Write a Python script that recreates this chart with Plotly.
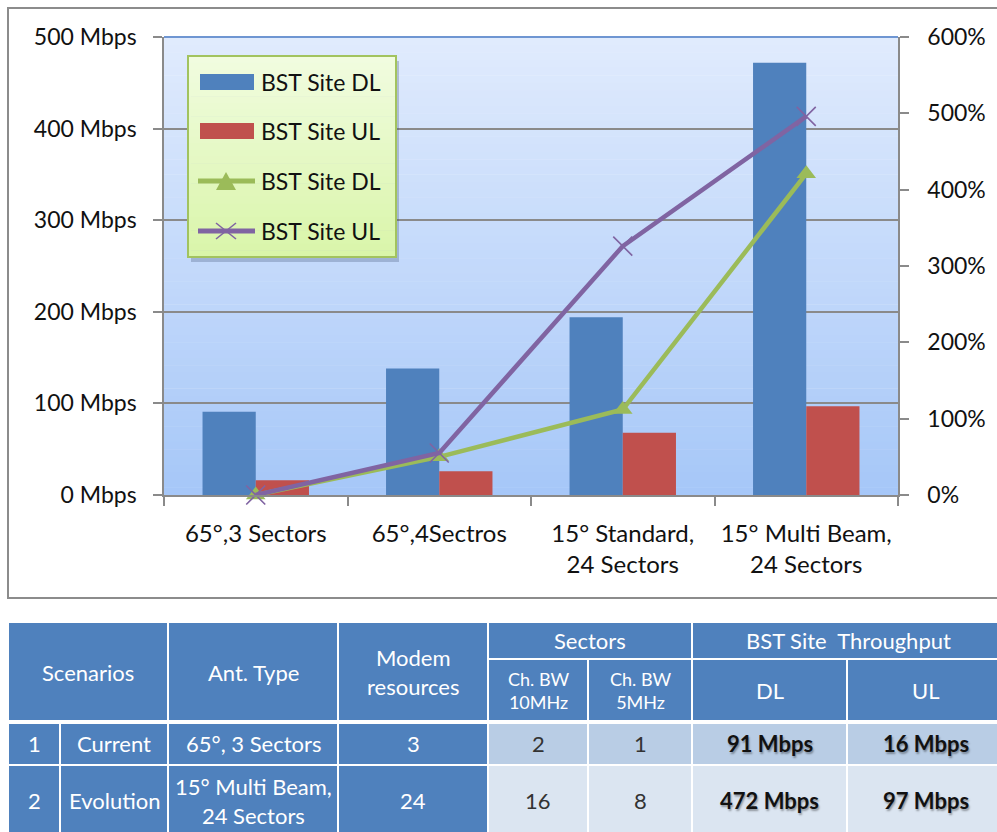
import plotly.graph_objects as go

# ---- chart data ----
categories = ["65°,3 Sectors", "65°,4Sectros", "15° Standard,<br>24 Sectors", "15° Multi Beam,<br>24 Sectors"]
dl_mbps = [91, 138, 194, 472]
ul_mbps = [16, 26, 68, 97]
dl_growth_pct = [0, 50, 112, 421]
ul_growth_pct = [0, 55, 326, 496]
series_names = ["BST Site DL", "BST Site UL", "BST Site DL", "BST Site UL"]
left_ticks = [0, 100, 200, 300, 400, 500]
right_ticks = [0, 100, 200, 300, 400, 500, 600]

# ---- table data ----
table_head_top = ["Scenarios", "Ant. Type", "Modem<br>resources", "Sectors", "BST Site  Throughput"]
table_head_sub = ["Ch. BW<br>10MHz", "Ch. BW<br>5MHz", "DL", "UL"]
table_rows = [
    ["1", "Current", "65°, 3 Sectors", "3", "2", "1", "91 Mbps", "16 Mbps"],
    ["2", "Evolution", "15° Multi Beam,<br>24 Sectors", "24", "16", "8", "472 Mbps", "97 Mbps"],
]

BLUE = "#4f81bd"
RED = "#c0504d"
GREEN = "#9bbb59"
PURPLE = "#8064a2"
GRID = "#8a8a8a"
FONT = "Lato, 'Open Sans', sans-serif"

W, H = 997, 832
PL, PR, PT, PB = 164, 898, 37, 495  # plot area in pixels


def px(x):
    return (x - PL) / (PR - PL)


def py(y):
    return (PB - y) / (PB - PT)


fig = go.Figure()
colors = [BLUE, RED]
for vals, name, col in zip([dl_mbps, ul_mbps], series_names[:2], colors):
    fig.add_trace(go.Bar(x=categories, y=vals, name=name, marker=dict(color=col, line=dict(width=0)),
                         yaxis="y", showlegend=False))

fig.add_trace(go.Scatter(x=categories, y=dl_growth_pct, name=series_names[2], yaxis="y2", mode="lines+markers",
                         line=dict(color=GREEN, width=4.5),
                         marker=dict(symbol="triangle-up", size=17, color=GREEN),
                         cliponaxis=False, showlegend=False))
fig.add_trace(go.Scatter(x=categories, y=ul_growth_pct, name=series_names[3], yaxis="y2", mode="lines+markers",
                         line=dict(color=PURPLE, width=4.5),
                         marker=dict(symbol="x-thin", size=19, color=PURPLE, line=dict(width=1.6, color=PURPLE)),
                         cliponaxis=False, showlegend=False))

shapes = []
annotations = []

# plot area vertical gradient
top_rgb = (0xe0, 0xeb, 0xfd)
bot_rgb = (0xa6, 0xc7, 0xf8)
n = 60
for i in range(n):
    t = (i + 0.5) / n
    c = tuple(round(top_rgb[k] + (bot_rgb[k] - top_rgb[k]) * t) for k in range(3))
    shapes.append(dict(type="rect", xref="paper", yref="paper", x0=0, x1=1,
                       y0=1 - (i + 1) / n - 0.001, y1=1 - i / n,
                       fillcolor="rgb(%d,%d,%d)" % c, line=dict(width=0), layer="below"))

# outer chart frame
shapes.append(dict(type="rect", xref="paper", yref="paper", x0=px(8), x1=px(1005), y0=py(598), y1=py(8),
                   line=dict(color="#8c8c8c", width=2), fillcolor="rgba(0,0,0,0)", layer="below"))
# top edge of plot area
shapes.append(dict(type="line", xref="paper", yref="paper", x0=0, x1=1, y0=1, y1=1,
                   line=dict(color="#6f96d2", width=2), layer="above"))

# ---- legend box ----
LX0, LX1, LY0, LY1 = 188, 396, 56, 257
shapes.append(dict(type="rect", xref="paper", yref="paper", x0=px(LX0 + 3), x1=px(LX1 + 3),
                   y0=py(LY1 + 5), y1=py(LY0 + 5), fillcolor="rgba(60,80,110,0.28)",
                   line=dict(width=0), layer="above"))
leg_top = (0xf1, 0xfc, 0xe0)
leg_bot = (0xd9, 0xf5, 0xa9)
m = 30
for i in range(m):
    t = (i + 0.5) / m
    c = tuple(round(leg_top[k] + (leg_bot[k] - leg_top[k]) * t) for k in range(3))
    ya = LY0 + (LY1 - LY0) * i / m
    yb = LY0 + (LY1 - LY0) * (i + 1) / m
    shapes.append(dict(type="rect", xref="paper", yref="paper", x0=px(LX0), x1=px(LX1),
                       y0=py(yb + 0.5), y1=py(ya), fillcolor="rgb(%d,%d,%d)" % c,
                       line=dict(width=0), layer="above"))
shapes.append(dict(type="rect", xref="paper", yref="paper", x0=px(LX0), x1=px(LX1), y0=py(LY1), y1=py(LY0),
                   fillcolor="rgba(0,0,0,0)", line=dict(color="#a2c35f", width=2), layer="above"))

row_y = [82, 131, 181, 231]
# bar swatches
for yy, col in zip(row_y[:2], colors):
    shapes.append(dict(type="rect", xref="paper", yref="paper", x0=px(200), x1=px(254),
                       y0=py(yy + 8), y1=py(yy - 8), fillcolor=col, line=dict(width=0), layer="above"))
# line swatches
for yy, col in zip(row_y[2:], [GREEN, PURPLE]):
    shapes.append(dict(type="line", xref="paper", yref="paper", x0=px(198), x1=px(255),
                       y0=py(yy), y1=py(yy), line=dict(color=col, width=5), layer="above"))
# triangle symbol
ty = row_y[2]
shapes.append(dict(type="path", xref="paper", yref="paper",
                   path="M %f %f L %f %f L %f %f Z" % (px(216), py(ty + 9), px(236), py(ty + 9), px(226), py(ty - 9)),
                   fillcolor=GREEN, line=dict(width=0), layer="above"))
# x symbol
xy = row_y[3]
for (a, b, c, d) in [(216, xy - 8, 236, xy + 8), (216, xy + 8, 236, xy - 8)]:
    shapes.append(dict(type="line", xref="paper", yref="paper", x0=px(a), y0=py(b), x1=px(c), y1=py(d),
                       line=dict(color=PURPLE, width=1.6), layer="above"))
for yy, name in zip(row_y, series_names):
    annotations.append(dict(xref="paper", yref="paper", x=px(259), y=py(yy), text=name, showarrow=False,
                            xanchor="left", yanchor="middle", font=dict(family=FONT, size=23, color="#111")))

# ---- table ----
cols = [8, 60, 168, 338, 488, 588, 692, 847, 1005]
rows = [622, 659, 722, 765, 840]
LIGHT1 = "#b9cde5"
LIGHT2 = "#dbe5f1"


def cell(x0, x1, y0, y1, fill):
    shapes.append(dict(type="rect", xref="paper", yref="paper", x0=px(x0), x1=px(x1), y0=py(y1), y1=py(y0),
                       fillcolor=fill, line=dict(color="white", width=2), layer="above"))


def text(xc, yc, s, size=22, color="white", bold=False, shadow=None):
    f = dict(family=FONT, size=size, color=color)
    if bold:
        f["weight"] = "bold"
    if shadow:
        f["shadow"] = shadow
    annotations.append(dict(xref="paper", yref="paper", x=px(xc), y=py(yc), text=s, showarrow=False,
                            xanchor="center", yanchor="middle", font=f))


# header cells
header_spans = [(0, 2, 0, 2), (2, 3, 0, 2), (3, 4, 0, 2), (4, 6, 0, 1), (6, 8, 0, 1)]
for (c0, c1, r0, r1), label in zip(header_spans, table_head_top):
    cell(cols[c0], cols[c1], rows[r0], rows[r1], BLUE)
    text((cols[c0] + cols[c1]) / 2, (rows[r0] + rows[r1]) / 2, label)
for j, label in enumerate(table_head_sub):
    c0 = 4 + j
    cell(cols[c0], cols[c0 + 1], rows[1], rows[2], BLUE)
    text((cols[c0] + cols[c0 + 1]) / 2, (rows[1] + rows[2]) / 2, label,
         size=18 if j < 2 else 22)

# body cells
for i, row in enumerate(table_rows):
    r0, r1 = rows[2 + i], rows[3 + i]
    for j, val in enumerate(row):
        c0, c1 = cols[j], cols[j + 1]
        yc = (r0 + r1) / 2 if i == 0 else (r0 + 836) / 2
        if j < 4:
            cell(c0, c1, r0, r1, BLUE)
            text((c0 + c1) / 2, yc, val)
        else:
            cell(c0, c1, r0, r1, LIGHT1 if i == 0 else LIGHT2)
            if j >= 6:
                text((c0 + c1) / 2, yc, val, color="#111", bold=True,
                     shadow="1px 2px 2px rgba(0,0,0,0.35)")
            else:
                text((c0 + c1) / 2, yc, val, color="#333")
# thicker divider under the header
shapes.append(dict(type="line", xref="paper", yref="paper", x0=px(8), x1=px(1005), y0=py(722), y1=py(722),
                   line=dict(color="white", width=4), layer="above"))

fig.update_layout(
    width=W, height=H, autosize=False,
    margin=dict(l=PL, r=W - PR, t=PT, b=H - PB, pad=0, autoexpand=False),
    paper_bgcolor="white", plot_bgcolor="rgba(0,0,0,0)",
    barmode="group", bargap=0.42, bargroupgap=0,
    font=dict(family=FONT, size=22, color="#111"),
    showlegend=False,
    xaxis=dict(type="category", showline=True, linecolor=GRID, linewidth=1.5, automargin=False,
               ticks="outside", tickson="boundaries", ticklen=9, tickcolor=GRID, tickwidth=1.5,
               tickfont=dict(family=FONT, size=24, color="#111"), ticklabelstandoff=16,
               showgrid=False, range=[-0.5, 3.5]),
    yaxis=dict(range=[0, 500], tickvals=left_ticks, ticktext=["%d Mbps" % v for v in left_ticks],
               showline=True, linecolor=GRID, linewidth=1.5, ticks="outside", ticklen=9, automargin=False,
               tickcolor=GRID, tickwidth=1.5, showgrid=True, gridcolor=GRID, gridwidth=1.5,
               zeroline=False, tickfont=dict(family=FONT, size=23, color="#111"), ticklabelstandoff=12),
    yaxis2=dict(range=[0, 600], tickvals=right_ticks, ticktext=["%d%%" % v for v in right_ticks],
                overlaying="y", side="right", showline=True, linecolor=GRID, linewidth=1.5, automargin=False,
                ticks="outside", ticklen=9, tickcolor=GRID, tickwidth=1.5, showgrid=False, zeroline=False,
                tickfont=dict(family=FONT, size=23, color="#111"), ticklabelstandoff=14),
    shapes=shapes, annotations=annotations,
)

fig.write_html("out.html")
